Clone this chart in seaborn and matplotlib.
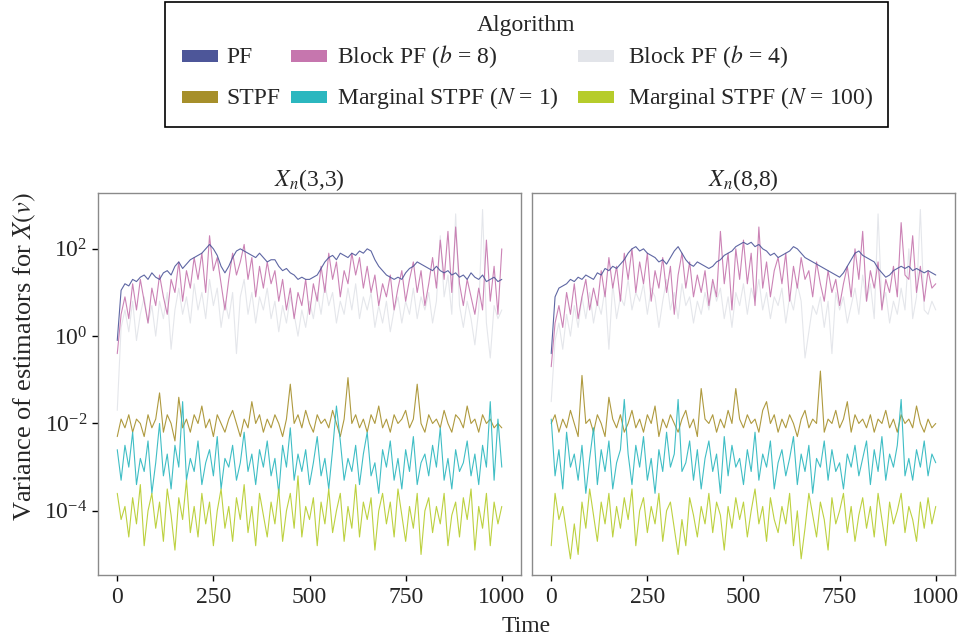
import numpy as np
import pandas as pd
import matplotlib
matplotlib.use("Agg")
import matplotlib.pyplot as plt
import seaborn as sns
from matplotlib.patches import Rectangle
from matplotlib.ticker import FixedLocator, LogFormatterSciNotation, NullLocator

# ---- data (log10 of variance, every 10 time steps) ----
TIME = np.arange(0, 1001, 10)

ALGORITHMS = ["PF", "Block PF ($b$ = 8)", "Block PF ($b$ = 4)",
              "STPF", "Marginal STPF ($N$ = 1)", "Marginal STPF ($N$ = 100)"]
COLORS = ["#4d5699", "#c676ae", "#e2e4e9", "#a68f2a", "#2bb7bf", "#b6cc2b"]
PANELS = ["$X_n$(3,3)", "$X_n$(8,8)"]

pf_33 = [-0.1, 1.05, 1.2, 1.15, 1.3, 1.25, 1.35, 1.4, 1.3, 1.45,
         1.35, 1.3, 1.45, 1.5, 1.4, 1.6, 1.7, 1.55, 1.65, 1.75,
         1.8, 1.85, 1.9, 2.0, 2.1, 2.0, 1.85, 1.6, 1.45, 1.6,
         1.8, 1.95, 2.0, 1.95, 1.9, 1.85, 1.8, 1.9, 1.8, 1.7,
         1.75, 1.75, 1.6, 1.5, 1.55, 1.45, 1.4, 1.3, 1.35, 1.3,
         1.3, 1.35, 1.4, 1.55, 1.7, 1.8, 1.85, 1.75, 1.9, 1.85,
         1.8, 1.9, 1.85, 1.95, 1.9, 2.0, 1.95, 1.75, 1.6, 1.5,
         1.4, 1.35, 1.3, 1.35, 1.3, 1.45, 1.55, 1.6, 1.7, 1.65,
         1.6, 1.55, 1.5, 1.6, 1.5, 1.45, 1.5, 1.4, 1.45, 1.35,
         1.4, 1.3, 1.45, 1.35, 1.3, 1.4, 1.25, 1.3, 1.35, 1.25, 1.3]
block8_33 = [-0.4, 0.5, 0.9, 0.4, 1.2, 0.6, 1.3, 0.8, 0.3, 1.1,
             0.7, 1.4, 0.9, 0.5, 1.3, 1.0, 1.7, 0.8, 1.5, 1.1,
             1.8, 1.3, 1.9, 1.0, 2.3, 1.5, 1.8, 1.2, 0.6, 1.3,
             1.9, 1.4, 1.7, 2.1, 1.3, 1.8, 0.9, 1.6, 1.1, 1.7,
             1.2, 1.5, 0.8, 1.3, 0.6, 1.1, 0.4, 1.0, 0.7, 1.3,
             0.5, 1.2, 0.8, 1.6, 1.0, 1.9, 1.3, 1.7, 0.9, 1.5,
             1.2, 1.9, 1.4, 1.8, 1.1, 1.6, 1.0, 1.4, 0.7, 1.2,
             0.9, 1.4, 0.6, 1.1, 1.5, 0.8, 1.3, 1.7, 1.0, 1.5,
             0.7, 1.2, 1.8, 1.1, 2.2, 1.3, 2.4, 1.0, 2.5, 1.2,
             0.7, 1.3, 0.9, 0.5, 1.1, 0.6, 2.2, 0.8, 1.6, 0.5, 2.0]
block4_33 = [-1.7, 0.2, 0.6, 0.1, 0.8, -0.1, 0.5, 0.9, 0.3, 0.7,
             0.0, 0.8, 0.4, 1.0, -0.3, 0.6, 1.1, 0.5, 0.9, 0.3,
             1.2, 0.6, 1.0, 0.4, 1.3, 0.7, 1.1, 0.2, 0.8, 0.4,
             1.0, -0.4, 0.9, 1.3, 0.5, 1.0, 0.3, 0.9, 0.6, 1.1,
             0.4, 0.8, 0.1, 0.7, 0.3, 0.9, 0.5, 0.0, 0.6, 0.2,
             0.8, 0.4, 1.0, 0.5, 1.2, 0.7, 1.0, 0.3, 0.8, 0.5,
             1.1, 0.6, 1.2, 0.4, 0.9, 0.6, 1.0, 0.2, 0.7, 0.3,
             0.8, 0.1, 0.6, 0.9, 0.3, 0.8, 0.5, 1.1, 0.4, 0.9,
             0.6, 1.0, 0.3, 0.8, 2.3, 0.9, 1.4, 0.5, 2.8, 0.7,
             0.2, 0.8, 0.4, -0.2, 0.6, 2.9, 0.3, -0.5, 0.7, 0.4, 0.6]
stpf_33 = [-2.3, -1.9, -2.1, -1.8, -2.2, -1.9, -2.0, -2.3, -1.8, -2.1,
           -1.9, -1.3, -2.2, -1.8, -2.0, -2.4, -1.4, -2.1, -1.9, -2.2,
           -1.8, -2.0, -1.6, -2.1, -1.9, -2.3, -1.8, -2.0, -2.2, -1.9,
           -1.7, -2.0, -2.3, -1.9, -2.1, -1.5, -2.0, -1.8, -2.2, -1.9,
           -2.1, -1.8, -2.0, -2.3, -1.9, -1.1, -2.0, -1.8, -2.1, -1.7,
           -2.0, -2.2, -1.8, -2.0, -1.9, -2.1, -1.7, -2.0, -2.3, -1.9,
           -0.95, -2.0, -1.8, -2.1, -1.9, -2.2, -1.8, -2.0, -1.6, -2.1,
           -1.9, -2.2, -1.8, -2.0, -1.9, -1.7, -2.1, -1.9, -1.1, -2.0,
           -2.2, -1.8, -2.0, -1.9, -2.1, -1.7, -2.0, -2.2, -1.8, -1.9,
           -2.1, -1.6, -2.0, -1.9, -2.2, -1.8, -2.0, -1.9, -2.1, -2.0, -2.1]
marg1_33 = [-2.6, -3.3, -2.5, -3.0, -2.2, -3.4, -2.8, -3.1, -2.4, -3.6,
            -2.9, -2.0, -3.2, -2.7, -3.5, -2.5, -3.0, -1.5, -3.3, -2.8,
            -3.1, -2.4, -3.4, -2.9, -2.6, -3.2, -2.3, -3.5, -2.8, -3.0,
            -2.5, -3.3, -2.9, -2.2, -3.1, -2.7, -3.4, -2.6, -3.0, -2.4,
            -3.2, -2.8, -3.6, -2.5, -3.0, -2.1, -3.3, -2.7, -3.1, -2.6,
            -3.4, -2.9, -2.3, -3.2, -2.8, -3.5, -2.6, -1.6, -2.4, -3.3,
            -2.8, -3.1, -2.5, -3.4, -2.7, -2.2, -3.2, -2.9, -3.6, -2.6,
            -3.0, -2.4, -3.3, -2.8, -3.5, -2.6, -3.1, -2.3, -3.4, -2.9,
            -2.7, -3.2, -2.5, -3.0, -2.1, -3.3, -2.8, -3.5, -2.6, -3.1,
            -2.9, -2.4, -3.2, -2.7, -3.4, -2.5, -3.0, -1.5, -3.3, -1.9, -3.0]
marg100_33 = [-3.6, -4.2, -3.9, -4.6, -3.7, -4.3, -3.4, -4.8, -4.0, -3.6,
              -4.4, -3.8, -4.7, -3.5, -4.1, -4.9, -3.7, -4.2, -3.3, -4.5,
              -3.9, -4.6, -3.6, -4.3, -3.8, -4.8, -4.0, -3.5, -4.4, -3.9,
              -4.7, -3.7, -4.2, -3.4, -4.5, -3.9, -4.8, -3.6, -4.1, -4.6,
              -3.8, -4.3, -3.5, -4.7, -4.0, -3.6, -4.4, -3.2, -4.6, -3.9,
              -4.2, -3.7, -4.8, -3.8, -4.3, -3.5, -4.5, -4.0, -3.6, -4.7,
              -3.9, -4.4, -3.4, -4.6, -3.8, -4.2, -3.7, -4.9, -4.0, -3.6,
              -4.3, -3.8, -4.6, -3.5, -4.1, -4.7, -3.9, -4.4, -3.6, -5.0,
              -4.0, -3.7, -4.5, -3.9, -4.3, -3.6, -4.8, -4.1, -3.8, -4.6,
              -3.7, -4.2, -3.5, -4.9, -3.9, -4.4, -3.6, -4.8, -3.8, -4.3, -3.9]

pf_88 = [-0.4, 0.9, 1.1, 1.15, 1.2, 1.3, 1.25, 1.35, 1.3, 1.4,
         1.35, 1.3, 1.45, 1.4, 1.55, 1.5, 1.6, 1.55, 1.65, 1.75,
         1.9, 2.0, 2.05, 1.95, 2.0, 1.9, 1.85, 1.8, 1.7, 1.75,
         1.65, 1.8, 1.95, 2.05, 1.9, 1.75, 1.65, 1.6, 1.7, 1.65,
         1.6, 1.55, 1.6, 1.7, 1.75, 1.85, 1.9, 1.95, 2.05, 2.1,
         2.15, 2.1, 2.15, 2.05, 2.1, 2.0, 1.95, 1.85, 1.9, 1.8,
         1.85, 1.9, 1.95, 2.05, 2.0, 1.9, 1.8, 1.75, 1.7, 1.65,
         1.6, 1.55, 1.5, 1.45, 1.4, 1.35, 1.45, 1.6, 1.75, 1.9,
         1.95, 1.85, 1.8, 1.75, 1.7, 1.55, 1.45, 1.35, 1.4, 1.5,
         1.55, 1.6, 1.55, 1.6, 1.5, 1.55, 1.5, 1.45, 1.5, 1.45, 1.4]
block8_88 = [-0.7, 0.3, 0.7, 0.2, 1.0, 0.5, 1.2, 0.4, 0.9, 1.3,
             0.6, 1.1, 0.7, 1.5, 0.9, 1.8, 1.1, 1.6, 0.8, 1.9,
             1.3, 2.0, 1.0, 1.7, 1.2, 1.9, 0.8, 1.5, 1.1, 1.8,
             1.0, 1.6, 0.5, 1.4, 1.9, 1.1, 1.7, 0.9, 1.4, 1.0,
             1.5, 0.7, 1.3, 0.9, 2.4, 1.2, 1.9, 0.6, 2.0, 1.3,
             2.2, 1.2, 1.9, 0.7, 2.5, 1.1, 1.7, 0.9, 1.5, 1.8,
             1.2, 1.9, 0.8, 1.6, 1.1, 1.8, 1.3, 1.5, 0.9, 1.7,
             1.2, 0.8, 1.5, 1.0, 1.3, 0.7, 1.2, 1.6, 0.9, 2.0,
             1.3, 2.4, 0.8, 1.5, 1.1, 1.7, 0.6, 1.3, 1.0, 1.6,
             0.9, 2.6, 1.4, 1.3, 2.3, 1.0, 1.6, 0.8, 1.5, 1.1, 1.2]
block4_88 = [-1.5, -0.1, 0.3, -0.3, 0.5, 0.0, 0.7, 0.2, 0.9, 0.4,
             1.0, 0.3, 0.8, 0.5, 1.1, -0.3, 1.2, 0.4, 0.9, 0.7,
             1.3, 0.6, 1.0, 0.8, 1.2, 0.5, 1.1, 0.9, 0.2, 0.8,
             1.3, 0.6, 1.0, 0.4, 1.2, 0.7, 0.9, 0.3, 0.8, 0.5,
             1.0, 0.6, 1.2, 0.8, 1.1, 0.4, 0.9, 0.2, 1.0, 0.7,
             1.2, 0.5, 1.1, 0.8, 1.3, 0.6, 1.0, 0.4, 0.9, 0.7,
             1.1, 0.3, 0.9, 0.6, 1.2, 0.8, -0.5, 0.1, 0.7, 0.5,
             0.9, 0.2, 0.8, -0.4, 1.0, 0.6, 0.9, 0.3, 0.7, 1.1,
             0.5, 1.4, 0.8, 1.2, 0.4, 2.8, 0.7, 1.0, 0.3, 0.8,
             0.5, 1.1, 0.6, 2.0, 0.4, 0.9, 2.9, 0.6, 0.5, 0.8, 0.6]
stpf_88 = [-2.0, -1.8, -2.2, -1.9, -2.1, -1.7, -2.0, -2.3, -0.9, -2.0,
           -1.9, -2.2, -1.8, -2.0, -2.3, -1.4, -1.9, -2.1, -1.8, -2.2,
           -2.0, -1.7, -2.1, -1.9, -2.2, -1.8, -2.0, -1.6, -2.3, -1.9,
           -2.1, -1.8, -2.0, -2.2, -1.9, -1.7, -2.1, -1.9, -2.3, -1.2,
           -1.9, -2.0, -1.8, -2.2, -1.9, -2.1, -1.7, -2.0, -1.2, -1.9,
           -2.1, -1.8, -2.0, -1.9, -2.2, -1.7, -1.5, -2.0, -1.8, -2.2,
           -1.9, -2.1, -1.8, -2.0, -2.3, -1.9, -1.7, -2.1, -1.9, -2.0,
           -0.8, -2.2, -1.9, -2.0, -1.7, -2.1, -1.9, -1.5, -2.2, -1.8,
           -2.0, -1.9, -2.1, -1.8, -2.2, -1.9, -2.0, -1.7, -2.1, -1.9,
           -2.2, -1.8, -2.0, -1.9, -2.1, -1.6, -2.0, -2.2, -1.9, -2.1, -2.0]
marg1_88 = [-1.9, -3.2, -2.6, -3.5, -2.2, -3.0, -2.7, -3.3, -2.5, -3.6,
            -2.8, -2.1, -3.4, -2.6, -3.1, -2.4, -3.5, -2.9, -2.6, -1.45,
            -2.7, -3.4, -2.5, -3.0, -2.3, -3.3, -2.8, -3.6, -2.6, -3.1,
            -2.2, -3.0, -2.7, -1.45, -3.1, -2.9, -2.4, -3.3, -2.6, -3.5,
            -2.8, -2.4, -3.1, -2.7, -3.6, -2.3, -3.2, -2.5, -3.0, -2.8,
            -3.4, -2.6, -3.1, -2.2, -3.3, -2.7, -3.0, -2.4, -3.5, -2.9,
            -2.6, -3.2, -2.8, -2.3, -3.4, -2.7, -3.1, -2.5, -3.6, -2.8,
            -3.0, -2.4, -3.3, -2.6, -3.1, -2.9, -3.5, -2.7, -3.0, -2.5,
            -3.2, -2.8, -2.4, -3.4, -2.6, -3.1, -2.3, -3.3, -2.7, -3.0,
            -2.5, -1.45, -3.2, -2.8, -3.3, -2.6, -3.0, -2.4, -3.2, -2.7, -2.9]
marg100_88 = [-4.8, -3.6, -4.2, -3.9, -4.5, -5.1, -4.3, -5.0, -3.8, -4.4,
              -3.5, -4.1, -4.7, -3.8, -4.3, -3.6, -4.6, -3.9, -4.4, -3.7,
              -4.2, -3.5, -4.8, -4.0, -3.7, -4.5, -3.9, -4.3, -3.6, -4.7,
              -4.0, -3.8, -4.4, -5.0, -4.2, -4.8, -3.7, -4.1, -4.6, -3.9,
              -4.3, -3.6, -4.5, -3.8, -4.1, -4.9, -3.9, -4.4, -3.7, -4.2,
              -3.8, -4.6, -4.0, -3.5, -4.3, -3.9, -4.7, -3.7, -4.2, -4.5,
              -3.9, -4.3, -3.6, -4.8, -4.0, -5.1, -4.4, -3.6, -4.1, -4.6,
              -3.8, -4.2, -4.9, -3.7, -4.3, -4.0, -3.6, -4.5, -3.9, -4.7,
              -4.1, -3.7, -4.4, -3.9, -4.6, -3.6, -4.2, -4.8, -3.8, -4.3,
              -4.0, -3.6, -4.5, -3.9, -4.2, -4.7, -3.8, -4.4, -3.7, -4.3, -3.9]

SERIES = {
    PANELS[0]: [pf_33, block8_33, block4_33, stpf_33, marg1_33, marg100_33],
    PANELS[1]: [pf_88, block8_88, block4_88, stpf_88, marg1_88, marg100_88],
}

frames = []
for panel, series in SERIES.items():
    for algo, vals in zip(ALGORITHMS, series):
        frames.append(pd.DataFrame({"Time": TIME, "Variance": np.power(10.0, vals),
                                    "Algorithm": algo, "Panel": panel}))
df = pd.concat(frames, ignore_index=True)

# ---- style ----
sns.set_theme(style="ticks")
plt.rcParams["font.family"] = ["Liberation Serif", "DejaVu Serif"]
plt.rcParams["mathtext.fontset"] = "stix"
FS = 17
W, H = 962, 641

palette = dict(zip(ALGORITHMS, COLORS))
draw_order = [ALGORITHMS[2], ALGORITHMS[1], ALGORITHMS[0],
              ALGORITHMS[3], ALGORITHMS[4], ALGORITHMS[5]]

fig = plt.figure(figsize=(W / 100, H / 100), dpi=100)
axes = [fig.add_axes([0.1019, 0.103, 0.4397, 0.596]),
        fig.add_axes([0.5530, 0.103, 0.4397, 0.596])]

for i, (ax, panel) in enumerate(zip(axes, PANELS)):
    sub = df[df["Panel"] == panel]
    sns.lineplot(data=sub, x="Time", y="Variance", hue="Algorithm",
                 hue_order=draw_order, palette=palette, estimator=None,
                 linewidth=0.8, alpha=0.9, legend=False, ax=ax)
    ax.set_yscale("log")
    ax.set_xlim(-50, 1050)
    ax.set_ylim(10 ** -5.47, 10 ** 3.28)
    ax.xaxis.set_major_locator(FixedLocator([0, 250, 500, 750, 1000]))
    ax.yaxis.set_major_locator(FixedLocator([1e-4, 1e-2, 1e0, 1e2]))
    ax.yaxis.set_minor_locator(NullLocator())
    ax.yaxis.set_major_formatter(LogFormatterSciNotation())
    ax.set_xlabel("")
    ax.set_ylabel("")
    ax.set_title(panel, fontsize=FS, pad=4)
    ax.tick_params(axis="both", labelsize=FS, length=4.5, width=1, color="black", pad=3)
    ax.tick_params(axis="x", pad=4)
    for sp in ax.spines.values():
        sp.set_color("#8a8a8a")
        sp.set_linewidth(1.0)
    if i == 1:
        ax.tick_params(axis="y", left=False, labelleft=False)

fig.text(0.547, 0.022, "Time", ha="center", va="center", fontsize=FS)
fig.text(0.026, 0.444, "Variance of estimators for $X(v)$", rotation=90,
         ha="center", va="center", fontsize=19)

# legend box laid out as in the original: 3 columns x 2 rows, title on top
fig.add_artist(Rectangle((165 / W, 1 - 127 / H), (888 - 165) / W, 125 / H,
                         transform=fig.transFigure, fill=False,
                         edgecolor="black", linewidth=1.2))
fig.text(526 / W, 1 - 25 / H, "Algorithm", ha="center", va="center", fontsize=FS)
handle_x = [182, 291, 578]
label_x = [226, 337, 628]
row_y = [56, 97]
for k, (algo, color) in enumerate(zip(ALGORITHMS, COLORS)):
    row, col = (0, k) if k < 3 else (1, k - 3)
    # rows in the original: PF / Block8 / Block4, then STPF / Marg1 / Marg100
    yc = row_y[row]
    fig.add_artist(Rectangle((handle_x[col] / W, 1 - (yc + 6) / H), 36 / W, 12 / H,
                             transform=fig.transFigure, facecolor=color,
                             edgecolor="none"))
    fig.text(label_x[col] / W, 1 - (yc + 7) / H, algo, ha="left",
             va="baseline", fontsize=FS)

fig.savefig("out.png", dpi=100)
